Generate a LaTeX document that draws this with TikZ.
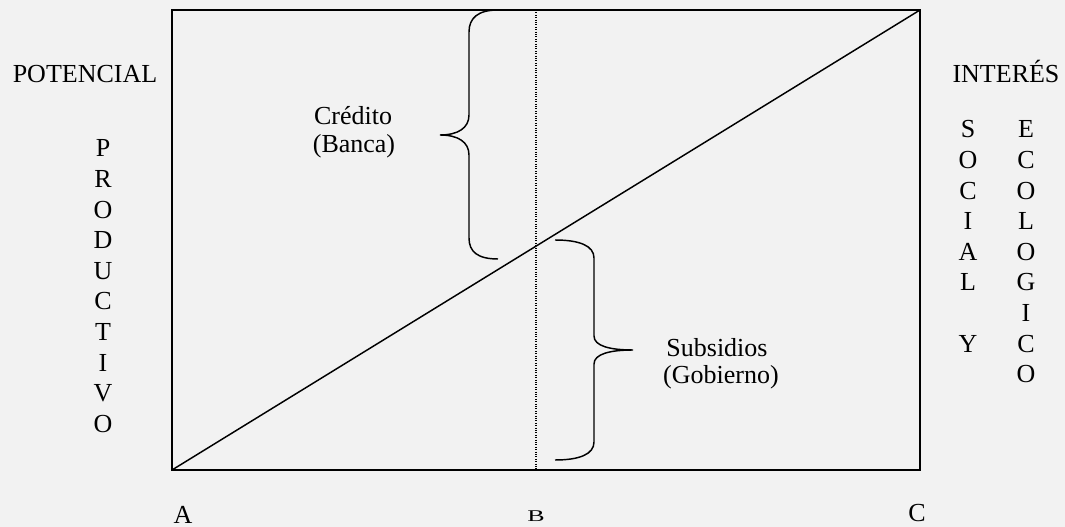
\documentclass[tikz,border=0pt]{standalone}
\usepackage{fontspec}
\setmainfont{Liberation Serif}
\usepackage{graphicx}

\begin{document}
\begin{tikzpicture}[x=0.75pt,y=-0.75pt,
  texto/.style={anchor=base,inner sep=0pt,font=\fontsize{19.5}{21}\selectfont},
  marco/.style={line width=1.5pt},
  llave/.style={line width=1.1pt}]
  \useasboundingbox[fill=black!5] (0,0) rectangle (1065,527);

  \coordinate (sw) at (172,470);
  \coordinate (ne) at (920,10);
  \coordinate (btop) at (536,10);
  \coordinate (bbot) at (536,470);

  \draw[marco] (sw) rectangle (ne);
  \draw[line width=1.1pt] (sw) -- (ne);
  \draw[densely dotted,line width=0.8pt] (btop) -- (bbot);

  \draw[llave] (498,10) .. controls (478,10) and (469,18) .. (469,32) -- (469,115)
    .. controls (469,128) and (458,135) .. (440,135)
    .. controls (458,135) and (469,142) .. (469,155) -- (469,238)
    .. controls (469,252) and (478,259) .. (498,259);
  \draw[llave] (555,240) .. controls (580,240) and (594,246) .. (594,258) -- (594,336)
    .. controls (594,346) and (610,350) .. (633,350)
    .. controls (610,350) and (594,354) .. (594,364) -- (594,442)
    .. controls (594,454) and (580,460) .. (555,460);

  \node[texto] at (353,125) (credito) {Crédito};
  \node[texto] at (354,153) (banca) {(Banca)};
  \node[texto] at (717,357) (subsidios) {Subsidios};
  \node[texto] at (721,384) (gobierno) {(Gobierno)};

  \node[texto] at (85,83) (potencial) {POTENCIAL};
  \node[texto] at (1006,83) (interes) {INTERÉS};

  \foreach \l [count=\i] in {P,R,O,D,U,C,T,I,V,O}
    \node[texto] at (103,{157+30.6*(\i-1)}) (prod-\i) {\l};
  \foreach \l/\i in {S/0,O/1,C/2,I/3,A/4,L/5,Y/7}
    \node[texto] at (968,{138+30.6*\i}) (soc-\i) {\l};
  \foreach \l [count=\i] in {E,C,O,L,O,G,I,C,O}
    \node[texto] at (1026,{138+30.6*(\i-1)}) (eco-\i) {\l};

  \node[texto] at (183,523) (a) {A};
  \node[texto] at (536,522) (b) {\scalebox{1}[0.63]{B}};
  \node[texto] at (917,522) (c) {C};
\end{tikzpicture}
\end{document}
